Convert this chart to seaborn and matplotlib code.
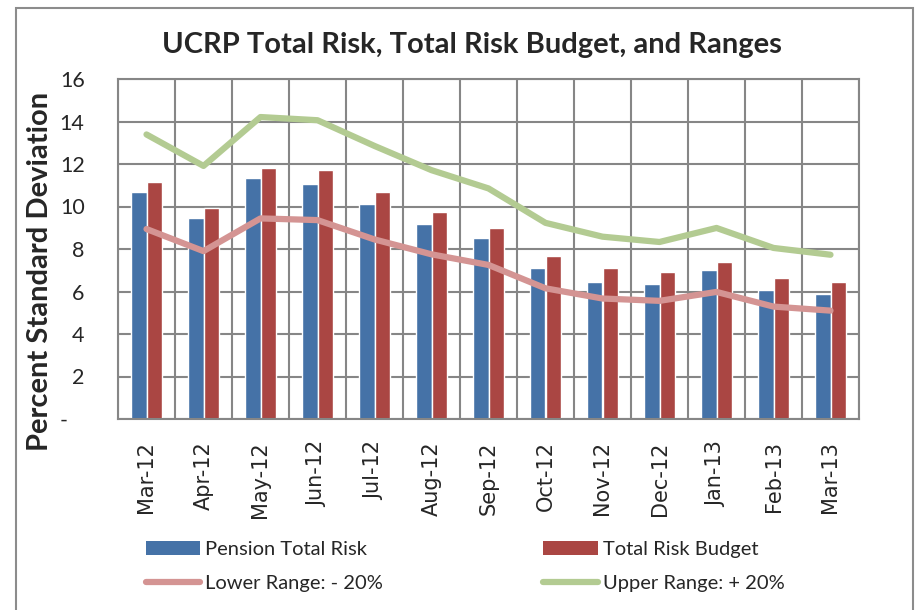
import numpy as np
import pandas as pd
import matplotlib
matplotlib.use("Agg")
import matplotlib.pyplot as plt
import seaborn as sns
from matplotlib.ticker import FixedLocator, FixedFormatter
from matplotlib.lines import Line2D
from matplotlib.patches import Patch, Rectangle

months = ["Mar-12", "Apr-12", "May-12", "Jun-12", "Jul-12", "Aug-12", "Sep-12",
          "Oct-12", "Nov-12", "Dec-12", "Jan-13", "Feb-13", "Mar-13"]
pension_total_risk = [10.68, 9.45, 11.33, 11.05, 10.11, 9.17, 8.51, 7.11, 6.45, 6.36, 7.02, 6.08, 5.89]
total_risk_budget = [11.15, 9.94, 11.79, 11.71, 10.68, 9.74, 8.98, 7.67, 7.11, 6.92, 7.39, 6.64, 6.45]
lower_range = [8.94, 7.90, 9.44, 9.36, 8.45, 7.75, 7.25, 6.15, 5.67, 5.56, 5.98, 5.29, 5.10]
upper_range = [13.39, 11.91, 14.21, 14.06, 12.85, 11.71, 10.85, 9.23, 8.58, 8.33, 8.99, 8.05, 7.73]
y_ticks = [0, 2, 4, 6, 8, 10, 12, 14, 16]
y_tick_labels = ["-   ", "2", "4", "6", "8", "10", "12", "14", "16"]

series_names = ["Pension Total Risk", "Total Risk Budget", "Lower Range: - 20%", "Upper Range: + 20%"]
BLUE, RED, PINK, GREEN = "#4572A7", "#AA4643", "#D49493", "#B3CB92"
GRID = "#868686"

sns.set_style("white")
plt.rcParams["font.family"] = ["Lato", "DejaVu Sans"]

df = pd.DataFrame({
    "Month": months * 2,
    "Value": pension_total_risk + total_risk_budget,
    "Series": [series_names[0]] * len(months) + [series_names[1]] * len(months),
})

fig = plt.figure(figsize=(9.15, 6.10), dpi=100)
ax = fig.add_axes([118 / 915, 1 - 419 / 610, (859 - 118) / 915, (419 - 79) / 610])

sns.barplot(data=df, x="Month", y="Value", hue="Series", order=months,
            hue_order=series_names[:2], palette=[BLUE, RED], saturation=1,
            width=0.56, gap=0, legend=False, ax=ax, zorder=2)

xs = np.arange(len(months))
sns.lineplot(x=xs, y=lower_range, color=PINK, lw=4.5, ax=ax, zorder=3,
             solid_capstyle="round", solid_joinstyle="round")
sns.lineplot(x=xs, y=upper_range, color=GREEN, lw=4.5, ax=ax, zorder=3,
             solid_capstyle="round", solid_joinstyle="round")

ax.set_xlim(-0.5, len(months) - 0.5)
ax.set_ylim(0, 16)
ax.set_xlabel("")
ax.set_ylabel("")

ax.yaxis.set_major_locator(FixedLocator(y_ticks))
ax.yaxis.set_major_formatter(FixedFormatter(y_tick_labels))
ax.xaxis.set_minor_locator(FixedLocator(np.arange(-0.5, len(months), 1.0)))

ax.set_axisbelow(True)
ax.grid(False)
ax.yaxis.grid(True, which="major", color=GRID, lw=1.5)
ax.xaxis.grid(True, which="minor", color=GRID, lw=1.5)

for s in ax.spines.values():
    s.set_visible(True)
    s.set_color(GRID)
    s.set_linewidth(1.5)

ax.tick_params(axis="x", which="major", length=0, pad=16, labelsize=15, rotation=90)
ax.tick_params(axis="x", which="minor", length=6, width=1.5, color=GRID, direction="out")
ax.tick_params(axis="y", which="major", length=7, width=1.5, color=GRID, direction="out",
               labelsize=15.5, pad=17)
for lbl in ax.get_xticklabels():
    lbl.set_fontfamily(["DejaVu Sans"])

fig.text(472 / 915, 1 - 45 / 610, "UCRP Total Risk, Total Risk Budget, and Ranges",
         ha="center", va="center", fontsize=21, fontweight="bold")
fig.text(40 / 915, 1 - 271 / 610, "Percent Standard Deviation", ha="center", va="center",
         rotation=90, fontsize=21, fontweight="bold")

handles = [Patch(facecolor=BLUE, edgecolor="none"),
           Line2D([0], [0], color=PINK, lw=4.5, solid_capstyle="round"),
           Patch(facecolor=RED, edgecolor="none"),
           Line2D([0], [0], color=GREEN, lw=4.5, solid_capstyle="round")]
labels = [series_names[0], series_names[2], series_names[1], series_names[3]]
fig.legend(handles, labels, loc="upper left", bbox_to_anchor=(146 / 915, 1 - 541 / 610),
           ncol=2, frameon=False, fontsize=14.5, handlelength=2.7, handleheight=0.7,
           handletextpad=0.25, columnspacing=7.95, labelspacing=0.85, borderpad=0,
           borderaxespad=0)

fig.patches.append(Rectangle((16 / 915, -0.02), (913 - 16) / 915, 1 - 8 / 610 + 0.02,
                             transform=fig.transFigure, fill=False, edgecolor="#8C8C8C",
                             lw=1.5, zorder=0))

fig.savefig("out.png", dpi=100)
